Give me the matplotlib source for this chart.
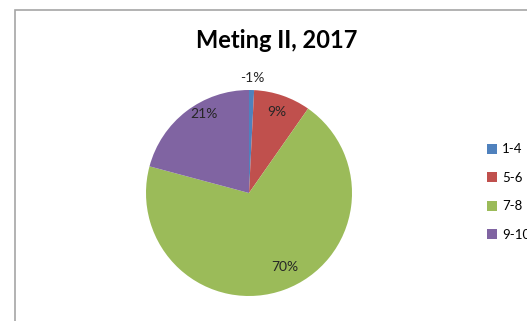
import numpy as np
import matplotlib
matplotlib.use("Agg")
import matplotlib.pyplot as plt
from matplotlib.patches import Rectangle

plt.rcParams['font.family'] = ['Lato', 'DejaVu Sans']

categories = ['1-4', '5-6', '7-8', '9-10']
values = [0.8, 9, 70, 21]
pct_labels = ['-1%', '9%', '70%', '21%']
colors = ['#4F81BD', '#C0504D', '#9BBB59', '#8064A2']
title = 'Meting II, 2017'

W, H = 527, 321
fig = plt.figure(figsize=(W / 100, H / 100), dpi=100)

# chart frame (runs off the right and bottom edges)
fig.patches.append(Rectangle((15 / W, -0.1), 1.2, 1 - 10 / H + 0.1,
                             transform=fig.transFigure, fill=False,
                             edgecolor='#a6a6a6', linewidth=1.2))

cx, cy, r = 249, 193, 103
ax = fig.add_axes([(cx - r) / W, (H - cy - r) / H, 2 * r / W, 2 * r / H])
wedges, _ = ax.pie(values, colors=colors, startangle=90, counterclock=False,
                   wedgeprops=dict(linewidth=0))
ax.set_xlim(-1, 1)
ax.set_ylim(-1, 1)
ax.set_aspect('equal')
ax.axis('off')

# data labels, placed along each wedge's middle angle
dists = [1.12, 0.83, 0.8, 0.88]
shifts = [0, 0, 6, -8]
for w, lab, d, s in zip(wedges, pct_labels, dists, shifts):
    ang = np.deg2rad((w.theta1 + w.theta2) / 2 + s)
    ax.text(d * np.cos(ang), d * np.sin(ang), lab, ha='center', va='center',
            fontsize=10, color='#262626', clip_on=False)

fig.text(277 / W, 1 - 40 / H, title, ha='center', va='center',
         fontsize=17, fontweight='bold', color='black')

fig.legend(wedges, categories, loc='center left',
           bbox_to_anchor=(475 / W, 1 - 192 / H), frameon=False,
           fontsize=9.5, handlelength=0.8, handleheight=0.8,
           handletextpad=0.35, labelspacing=1.25)

fig.savefig('out.png', dpi=100)
